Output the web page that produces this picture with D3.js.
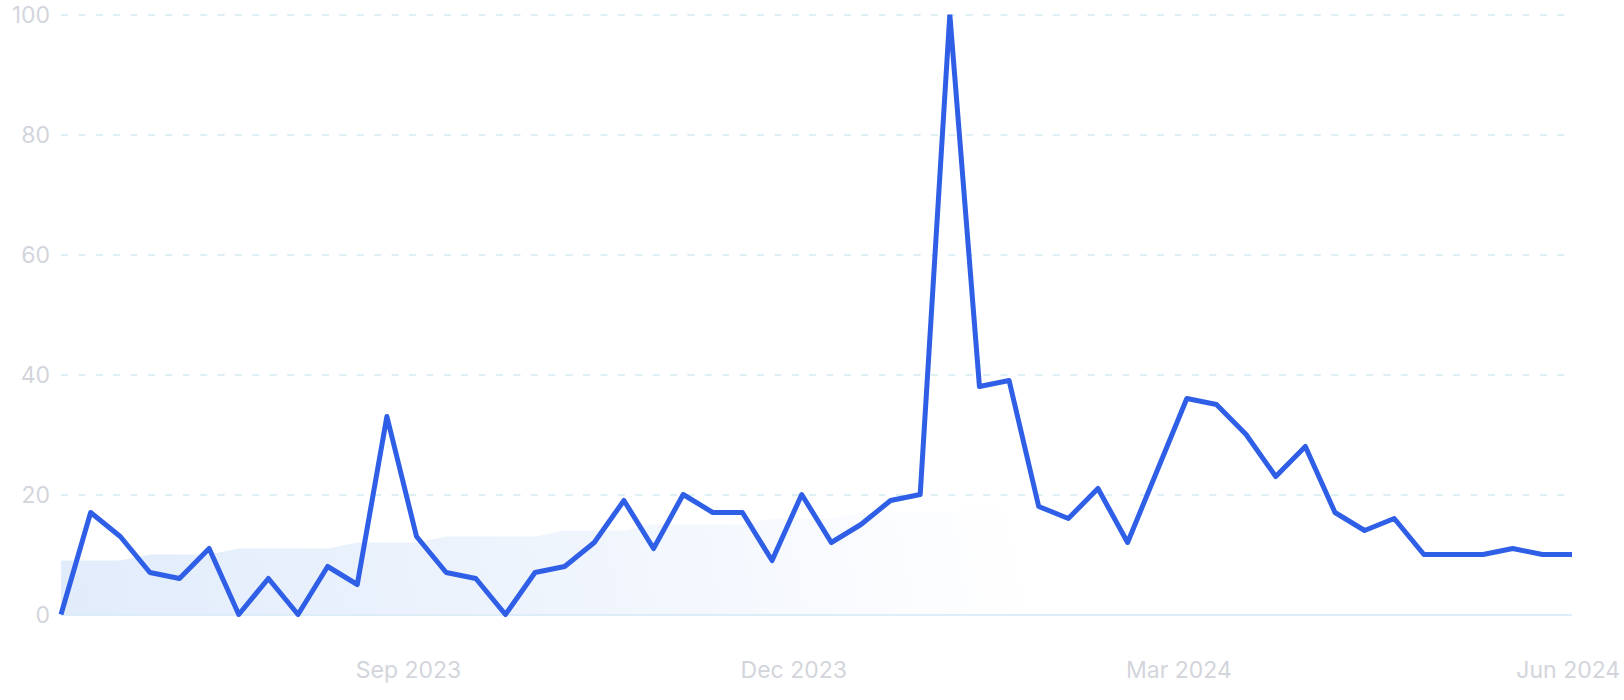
<!DOCTYPE html>
<html>
<head>
<meta charset="utf-8">
<script src="https://cdn.jsdelivr.net/npm/d3@7"></script>
<style>
  html, body { margin: 0; padding: 0; background: #ffffff; }
  svg { display: block; }
  text { font-family: Inter, "Noto Sans", sans-serif; }
</style>
</head>
<body>
<svg id="chart" width="1624" height="700"></svg>
<script>
// ---- data ----
const weeks = [
  "2023-06-11","2023-06-18","2023-06-25","2023-07-02","2023-07-09","2023-07-16","2023-07-23","2023-07-30",
  "2023-08-06","2023-08-13","2023-08-20","2023-08-27","2023-09-03","2023-09-10","2023-09-17","2023-09-24",
  "2023-10-01","2023-10-08","2023-10-15","2023-10-22","2023-10-29","2023-11-05","2023-11-12","2023-11-19",
  "2023-11-26","2023-12-03","2023-12-10","2023-12-17","2023-12-24","2023-12-31","2024-01-07","2024-01-14",
  "2024-01-21","2024-01-28","2024-02-04","2024-02-11","2024-02-18","2024-02-25","2024-03-03","2024-03-10",
  "2024-03-17","2024-03-24","2024-03-31","2024-04-07","2024-04-14","2024-04-21","2024-04-28","2024-05-05",
  "2024-05-12","2024-05-19","2024-05-26","2024-06-02"
];
const interest = [
  0,17,13,7,6,11,0,6,0,8,5,33,13,7,6,0,
  7,8,12,19,11,20,17,17,9,20,12,15,19,20,100,38,
  39,18,16,21,12,24,36,35,30,23,28,17,14,16,10,10,
  10,11,10,10
];
const trend = [
  9,9,9,10,10,10,11,11,11,11,12,12,12,13,13,13,
  13,14,14,14,15,15,15,15,16,16,16,17,17,17,17,18,
  18,18,19,19,19,19,20,20,20,21,21,21,21,22,22,22,
  23,23,23,24
];
const yTicks = [0, 20, 40, 60, 80, 100];
const xTickDates = ["2023-09-01","2023-12-01","2024-03-01","2024-06-01"];

// ---- setup ----
const parse = d3.utcParse("%Y-%m-%d");
const fmt = d3.utcFormat("%b %Y");
const dates = weeks.map(parse);
const rows = dates.map((d, i) => ({ date: d, v: interest[i], t: trend[i] }));

const svg = d3.select("#chart");
const x = d3.scaleUtc().domain([dates[0], dates[dates.length - 1]]).range([61, 1572]);
const y = d3.scaleLinear().domain([0, 100]).range([614.5, 14.5]);

const defs = svg.append("defs");
const grad = defs.append("linearGradient")
  .attr("id", "areaGrad")
  .attr("gradientUnits", "userSpaceOnUse")
  .attr("x1", 61).attr("y1", 614).attr("x2", 1000).attr("y2", 430);
grad.append("stop").attr("offset", "0%").attr("stop-color", "#e1ecfb");
grad.append("stop").attr("offset", "55%").attr("stop-color", "#f0f5fd");
grad.append("stop").attr("offset", "100%").attr("stop-color", "#ffffff");

defs.append("clipPath").attr("id", "plotClip")
  .append("rect").attr("x", 0).attr("y", y(100)).attr("width", 1624).attr("height", 700);

// trend area
svg.append("path")
  .datum(rows)
  .attr("fill", "url(#areaGrad)")
  .attr("d", d3.area().x(d => x(d.date)).y0(y(0)).y1(d => y(d.t)));

// grid lines
const yAxis = d3.axisLeft(y).tickValues(yTicks).tickSize(0).tickPadding(11);
const gy = svg.append("g").attr("transform", "translate(61,0)").call(yAxis);
gy.select(".domain").remove();
gy.selectAll(".tick text")
  .attr("fill", "#d3d5dc")
  .style("font-size", "23px")
  .attr("dy", "0.36em");
gy.selectAll(".tick").append("line")
  .attr("x1", 0).attr("x2", 1572 - 61)
  .attr("stroke", d => d === 0 ? "#d3e9f6" : "#d4eaf3")
  .attr("stroke-width", 1.6)
  .attr("stroke-dasharray", d => d === 0 ? null : "7,10.4");

// x axis labels
const xAxis = d3.axisBottom(x).tickValues(xTickDates.map(parse)).tickFormat(fmt).tickSize(0).tickPadding(0);
const gx = svg.append("g").attr("transform", "translate(0,678)").call(xAxis);
gx.select(".domain").remove();
gx.selectAll(".tick text")
  .attr("fill", "#d3d5dc")
  .style("font-size", "23px")
  .attr("y", 0)
  .attr("dy", 0);

// main line
svg.append("path")
  .datum(rows)
  .attr("clip-path", "url(#plotClip)")
  .attr("fill", "none")
  .attr("stroke", "#2f5fe6")
  .attr("stroke-width", 5)
  .attr("stroke-linejoin", "round")
  .attr("d", d3.line().x(d => x(d.date)).y(d => y(d.v)));
</script>
</body>
</html>
